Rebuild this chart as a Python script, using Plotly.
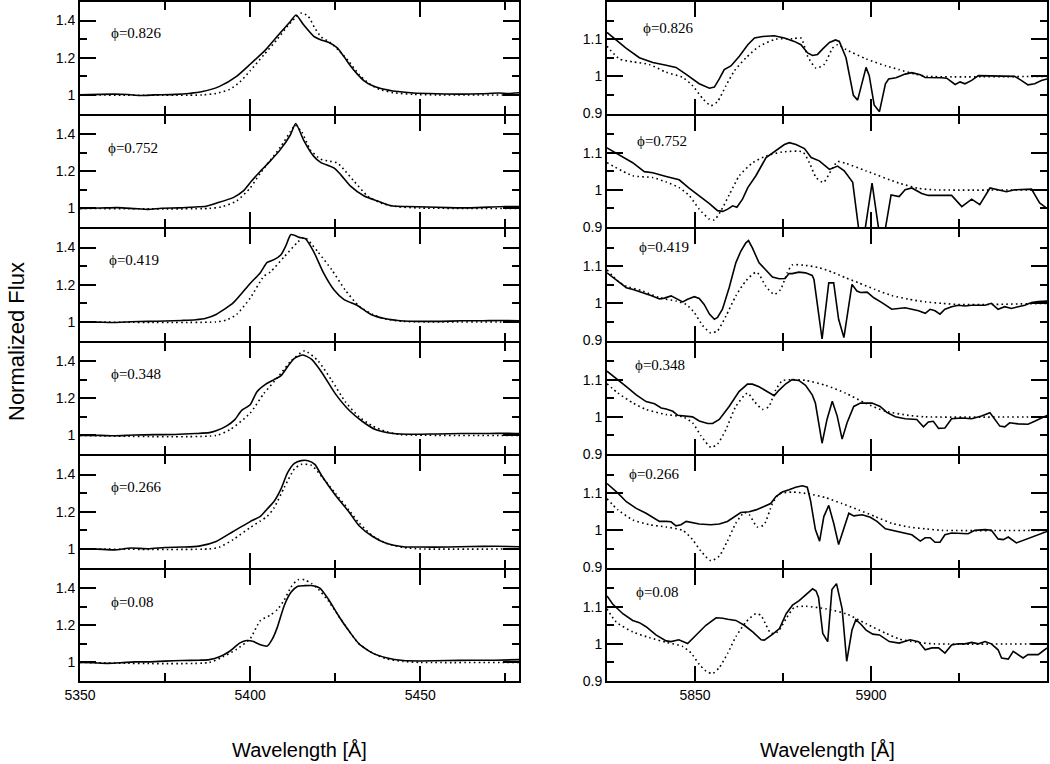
import plotly.graph_objects as go

# ---- phases (top to bottom) ----
PHASES = ["0.826", "0.752", "0.419", "0.348", "0.266", "0.08"]

# ---- left column: 5350-5480 A line profiles, (wavelength, flux) ----
left_obs_0826 = [(5350, 1.000), (5356, 1.003), (5360, 1.004), (5364, 1.002), (5368, 0.997), (5372, 1.000),
                 (5378, 1.003), (5382, 1.008), (5386, 1.018), (5391, 1.046), (5396, 1.100), (5400, 1.165),
                 (5404.8, 1.248), (5408.8, 1.333), (5411.8, 1.395), (5413.5, 1.430), (5415.7, 1.377),
                 (5418.7, 1.315), (5420.7, 1.297), (5423, 1.283), (5425.6, 1.253), (5427.6, 1.205),
                 (5429.5, 1.156), (5431.5, 1.112), (5433.5, 1.076), (5435.5, 1.053), (5438.4, 1.035),
                 (5443.4, 1.018), (5448, 1.010), (5455, 1.006), (5462, 1.004), (5468, 1.006), (5473, 1.010),
                 (5476, 1.008), (5479, 1.012)]
left_mod_0826 = [(5350, 1.000), (5386, 1.000), (5390, 1.008), (5394, 1.030), (5397, 1.070), (5400, 1.130),
                 (5404, 1.215), (5408, 1.300), (5411, 1.370), (5413.5, 1.420), (5415, 1.440), (5417, 1.425),
                 (5419, 1.360), (5421, 1.310), (5423.5, 1.283), (5426, 1.240), (5429, 1.180), (5432, 1.110),
                 (5435, 1.060), (5438, 1.030), (5442, 1.012), (5448, 1.003), (5455, 1.000), (5479, 1.000)]

left_obs_0752 = [(5350, 1.000), (5356, 1.002), (5361, 1.004), (5366, 0.999), (5370, 0.995), (5374, 1.001),
                 (5379, 1.003), (5384, 1.008), (5387, 1.012), (5390, 1.028), (5395, 1.058), (5398, 1.094),
                 (5400.4, 1.147), (5403, 1.200), (5405.8, 1.253), (5408.8, 1.315), (5411.8, 1.395),
                 (5413.4, 1.457), (5415.7, 1.368), (5418.7, 1.280), (5420.7, 1.248), (5424.6, 1.218),
                 (5426.6, 1.182), (5429.5, 1.120), (5433.5, 1.067), (5437.5, 1.040), (5441.5, 1.014),
                 (5446, 1.010), (5452, 1.008), (5458, 1.004), (5464, 1.003), (5470, 1.007), (5475, 1.010),
                 (5479, 1.010)]
left_mod_0752 = [(5350, 1.000), (5388, 1.000), (5392, 1.010), (5396, 1.040), (5400, 1.110), (5403, 1.190),
                 (5406, 1.260), (5409, 1.333), (5411.8, 1.412), (5413.2, 1.448), (5415.2, 1.410),
                 (5417.7, 1.315), (5420.7, 1.265), (5423, 1.255), (5425.6, 1.245), (5428, 1.200),
                 (5430.5, 1.147), (5434.5, 1.067), (5438.5, 1.028), (5443, 1.010), (5450, 1.002), (5479, 1.000)]

left_obs_0419 = [(5350, 1.000), (5355, 0.999), (5360, 0.997), (5365, 1.001), (5370, 1.003), (5375, 1.005),
                 (5380, 1.008), (5384, 1.012), (5387, 1.020), (5390, 1.040), (5395, 1.102), (5400, 1.207),
                 (5403, 1.265), (5405, 1.320), (5407, 1.335), (5409, 1.360), (5410.5, 1.410), (5412, 1.470),
                 (5414.5, 1.455), (5416.2, 1.448), (5418.7, 1.377), (5421.6, 1.262), (5424.6, 1.173),
                 (5427.6, 1.120), (5431.5, 1.088), (5435.5, 1.040), (5439.5, 1.018), (5445, 1.005),
                 (5450, 1.003), (5456, 1.003), (5462, 1.006), (5468, 1.006), (5474, 1.008), (5479, 1.006)]
left_mod_0419 = [(5350, 1.000), (5390, 1.000), (5393, 1.010), (5396, 1.040), (5400, 1.128), (5404, 1.245),
                 (5406, 1.270), (5410, 1.350), (5414, 1.430), (5416, 1.455), (5418, 1.420), (5420, 1.375),
                 (5424, 1.280), (5428, 1.170), (5432, 1.085), (5436, 1.040), (5440, 1.015), (5445, 1.003),
                 (5479, 1.000)]

left_obs_0348 = [(5350, 1.000), (5356, 1.000), (5360, 0.998), (5366, 1.002), (5372, 1.004), (5378, 1.005),
                 (5384, 1.010), (5388, 1.015), (5390, 1.025), (5393, 1.050), (5395.5, 1.085), (5397.5, 1.135),
                 (5400, 1.165), (5402, 1.235), (5404.5, 1.275), (5407, 1.300), (5409, 1.320), (5411, 1.370),
                 (5413, 1.415), (5415.5, 1.433), (5418, 1.410), (5421, 1.340), (5425, 1.225), (5429, 1.137),
                 (5433, 1.075), (5437, 1.030), (5442, 1.010), (5448, 1.006), (5455, 1.008), (5462, 1.010),
                 (5470, 1.010), (5476, 1.012), (5479, 1.010)]
left_mod_0348 = [(5350, 1.000), (5390, 1.000), (5394, 1.030), (5400, 1.120), (5404, 1.225), (5408, 1.310),
                 (5412, 1.400), (5416, 1.455), (5420, 1.400), (5424, 1.295), (5428, 1.180), (5432, 1.100),
                 (5436, 1.050), (5440, 1.020), (5444, 1.005), (5479, 1.000)]

left_obs_0266 = [(5350, 1.000), (5355, 0.999), (5360, 0.995), (5365, 1.005), (5370, 1.001), (5375, 1.008),
                 (5380, 1.010), (5385, 1.015), (5390, 1.040), (5395, 1.094), (5400, 1.147), (5403, 1.175),
                 (5405, 1.215), (5407, 1.255), (5409, 1.320), (5411, 1.410), (5413, 1.460), (5415, 1.475),
                 (5417, 1.475), (5419, 1.455), (5421, 1.395), (5425, 1.290), (5429, 1.200), (5432, 1.125),
                 (5436, 1.067), (5440, 1.030), (5445, 1.012), (5450, 1.010), (5458, 1.010), (5465, 1.013),
                 (5472, 1.014), (5479, 1.012)]
left_mod_0266 = [(5350, 1.000), (5388, 1.000), (5391, 1.010), (5395, 1.050), (5400, 1.115), (5403, 1.150),
                 (5405, 1.175), (5407, 1.220), (5410, 1.330), (5413, 1.430), (5415, 1.455), (5418, 1.450),
                 (5421, 1.390), (5425, 1.300), (5429, 1.210), (5432, 1.140), (5436, 1.070), (5440, 1.030),
                 (5445, 1.008), (5450, 1.000), (5479, 1.000)]

left_obs_008 = [(5350, 1.000), (5354, 0.998), (5358, 0.995), (5362, 0.998), (5366, 1.003), (5370, 1.003),
                (5375, 1.007), (5380, 1.010), (5385, 1.012), (5388, 1.015), (5391, 1.030), (5394, 1.060),
                (5397, 1.105), (5399, 1.118), (5401, 1.112), (5403, 1.095), (5405, 1.088), (5406.5, 1.125),
                (5408, 1.190), (5410, 1.305), (5412, 1.377), (5414, 1.410), (5416, 1.413), (5418.5, 1.413),
                (5420.5, 1.400), (5423, 1.340), (5426, 1.250), (5429, 1.170), (5432, 1.100), (5436, 1.050),
                (5440, 1.025), (5445, 1.010), (5450, 1.008), (5458, 1.010), (5465, 1.012), (5472, 1.012),
                (5479, 1.015)]
left_mod_008 = [(5350, 1.000), (5388, 1.000), (5392, 1.030), (5396, 1.070), (5400, 1.128), (5403, 1.225),
                (5406, 1.255), (5408, 1.285), (5410, 1.335), (5412, 1.405), (5414, 1.445), (5416, 1.445),
                (5418, 1.425), (5420, 1.395), (5423, 1.330), (5426, 1.250), (5429, 1.170), (5432, 1.100),
                (5436, 1.050), (5440, 1.020), (5445, 1.005), (5450, 1.000), (5479, 1.000)]

# ---- right column: 5825-5950 A ----
right_obs_0826 = [(5825, 1.118), (5827.6, 1.098), (5830.4, 1.076), (5834.2, 1.050), (5838.0, 1.037),
                  (5841.8, 1.030), (5844.6, 1.024), (5847.4, 1.006), (5851.2, 0.980), (5854.1, 0.968),
                  (5855.5, 0.971), (5856.9, 0.993), (5858.3, 1.018), (5860.2, 1.028), (5862.6, 1.054),
                  (5865.0, 1.085), (5866.9, 1.103), (5869.2, 1.107), (5872.5, 1.109), (5875.4, 1.103),
                  (5878.2, 1.094), (5880.1, 1.085), (5882.0, 1.063), (5883.4, 1.056), (5884.8, 1.059),
                  (5886.3, 1.074), (5888.2, 1.091), (5889.9, 1.098), (5891.0, 1.094), (5892.9, 1.050),
                  (5895.0, 0.949), (5896.2, 0.936), (5898.6, 1.024), (5899.5, 1.002), (5900.9, 0.923),
                  (5902.4, 0.905), (5904.1, 0.980), (5905.0, 0.993), (5907.1, 0.996), (5909.7, 1.006),
                  (5911.6, 1.010), (5914.0, 1.004), (5915.4, 0.997), (5920.1, 0.996), (5921.5, 0.995),
                  (5923.9, 0.978), (5925.3, 0.985), (5926.7, 0.980), (5928.6, 0.989), (5930.5, 1.002),
                  (5933.3, 1.002), (5936.1, 1.000), (5938.5, 1.002), (5940.8, 1.000), (5942.7, 0.989),
                  (5944.6, 0.977), (5946.5, 0.980), (5948.4, 0.989), (5950, 0.993)]
right_mod_0826 = [(5825, 1.081), (5828.5, 1.047), (5832.3, 1.039), (5837.0, 1.032), (5841.8, 1.011),
                  (5846.5, 0.997), (5849.3, 0.975), (5852.2, 0.940), (5854.5, 0.921), (5856.4, 0.932),
                  (5858.8, 0.975), (5861.2, 1.015), (5864.5, 1.050), (5868.3, 1.081), (5873.0, 1.100),
                  (5877.7, 1.101), (5880.1, 1.103), (5882.0, 1.054), (5884.4, 1.022), (5886.7, 1.032),
                  (5889.1, 1.076), (5890.5, 1.085), (5892.9, 1.072), (5898.6, 1.047), (5904.3, 1.028),
                  (5908.0, 1.018), (5912.5, 1.006), (5916.0, 1.000), (5950, 1.000)]

right_obs_0752 = [(5825, 1.113), (5827.1, 1.102), (5829.9, 1.087), (5832.3, 1.073), (5835.6, 1.049),
                  (5838.0, 1.046), (5841.8, 1.036), (5845.5, 1.027), (5848.4, 1.004), (5851.2, 0.984),
                  (5854.1, 0.963), (5856.4, 0.944), (5857.9, 0.942), (5859.3, 0.948), (5860.7, 0.957),
                  (5861.9, 0.953), (5863.5, 0.975), (5865.0, 1.006), (5867.3, 1.038), (5870.2, 1.087),
                  (5872.5, 1.102), (5875.4, 1.122), (5876.8, 1.127), (5878.7, 1.122), (5881.1, 1.111),
                  (5883.0, 1.087), (5885.3, 1.078), (5888.2, 1.055), (5890.5, 1.064), (5892.4, 1.051),
                  (5894.8, 1.020), (5896.7, 0.880), (5898.1, 0.880), (5900.3, 1.018), (5902.4, 0.880),
                  (5903.8, 0.880), (5905.7, 0.986), (5908.0, 0.982), (5909.7, 1.000), (5911.6, 1.005),
                  (5914.4, 0.990), (5916.3, 0.985), (5922.9, 0.985), (5925.8, 0.955), (5928.6, 0.975),
                  (5930.9, 0.960), (5933.8, 1.005), (5936.1, 1.000), (5938.5, 0.995), (5940.8, 1.000),
                  (5945.6, 1.002), (5947.9, 0.965), (5950, 0.950)]
right_mod_0752 = [(5825, 1.073), (5832.3, 1.038), (5838.0, 1.033), (5841.8, 1.021), (5845.5, 1.006),
                  (5848.4, 0.984), (5851.2, 0.948), (5854.1, 0.921), (5855.5, 0.919), (5857.4, 0.944),
                  (5859.8, 0.988), (5862.6, 1.038), (5866.4, 1.073), (5870.2, 1.091), (5874.9, 1.102),
                  (5880.6, 1.102), (5882.5, 1.073), (5884.4, 1.033), (5886.5, 1.020), (5888.6, 1.051),
                  (5890.5, 1.076), (5892.9, 1.071), (5898.6, 1.051), (5908.0, 1.018), (5913.5, 1.004),
                  (5918.2, 1.000), (5950, 1.000)]

right_obs_0419 = [(5825, 1.082), (5828.1, 1.060), (5830.5, 1.042), (5832.4, 1.037), (5835.2, 1.029),
                  (5837.5, 1.021), (5839.9, 1.012), (5841.3, 1.014), (5843.2, 1.020), (5845.1, 1.011),
                  (5846.5, 1.004), (5847.9, 1.011), (5849.8, 1.018), (5851.2, 1.013), (5852.6, 0.997),
                  (5854.1, 0.971), (5855.5, 0.957), (5856.4, 0.962), (5857.8, 0.984), (5859.7, 1.042),
                  (5861.6, 1.109), (5863.0, 1.140), (5864.4, 1.162), (5865.2, 1.169), (5866.3, 1.149),
                  (5868.2, 1.109), (5870.1, 1.091), (5872.0, 1.071), (5873.9, 1.066), (5875.6, 1.067),
                  (5876.7, 1.080), (5877.6, 1.080), (5879.5, 1.084), (5881.4, 1.082), (5883.3, 1.075),
                  (5883.8, 1.064), (5886.1, 0.904), (5888.0, 1.055), (5889.4, 1.055), (5890.8, 0.957),
                  (5892.3, 0.908), (5894.6, 1.051), (5896.0, 1.033), (5897.0, 1.029), (5898.9, 1.030),
                  (5900.8, 1.015), (5903.1, 1.002), (5905.9, 0.984), (5907.8, 0.986), (5909.7, 0.988),
                  (5911.6, 0.984), (5913.5, 0.980), (5915.4, 0.973), (5916.8, 0.984), (5918.2, 0.980),
                  (5919.6, 0.971), (5921.0, 0.984), (5922.9, 0.991), (5924.8, 0.995), (5926.7, 0.993),
                  (5928.6, 0.995), (5930.5, 0.996), (5932.4, 0.995), (5934.2, 1.000), (5936.1, 0.984),
                  (5938.0, 0.991), (5939.9, 0.986), (5941.8, 0.991), (5943.7, 0.995), (5945.6, 1.002),
                  (5947.5, 1.005), (5950, 1.006)]
right_mod_0419 = [(5825, 1.090), (5828.1, 1.060), (5830.5, 1.046), (5835.2, 1.033), (5839.9, 1.015),
                  (5844.6, 1.006), (5847.5, 0.997), (5849.8, 0.975), (5852.2, 0.940), (5854.5, 0.920),
                  (5856.4, 0.926), (5858.8, 0.966), (5861.6, 1.020), (5864.4, 1.060), (5867.3, 1.084),
                  (5868.2, 1.078), (5870.1, 1.046), (5872.5, 1.024), (5874.3, 1.037), (5876.2, 1.082),
                  (5877.6, 1.103), (5881.4, 1.102), (5885.2, 1.096), (5889.0, 1.084), (5892.7, 1.069),
                  (5896.5, 1.055), (5901.2, 1.037), (5905.9, 1.021), (5910.7, 1.011), (5915.4, 1.004),
                  (5920.1, 1.000), (5924.8, 0.997), (5934.2, 0.997), (5950, 1.000)]

right_obs_0348 = [(5825, 1.123), (5828.1, 1.098), (5830.5, 1.081), (5833.3, 1.059), (5836.1, 1.041),
                  (5838.5, 1.035), (5840.4, 1.024), (5841.8, 1.021), (5843.7, 1.015), (5845.1, 1.004),
                  (5847.9, 1.002), (5849.3, 1.000), (5851.2, 0.989), (5853.6, 0.982), (5855.0, 0.982),
                  (5856.9, 0.993), (5859.7, 1.028), (5862.5, 1.068), (5864.9, 1.088), (5866.3, 1.088),
                  (5868.2, 1.081), (5870.6, 1.068), (5872.5, 1.057), (5873.9, 1.072), (5875.8, 1.089),
                  (5877.6, 1.100), (5879.5, 1.098), (5881.4, 1.085), (5883.3, 1.059), (5884.2, 1.037),
                  (5885.2, 0.975), (5886.1, 0.929), (5887.5, 0.993), (5889.0, 1.042), (5890.4, 1.002),
                  (5891.8, 0.940), (5893.2, 0.984), (5895.1, 1.028), (5897.0, 1.037), (5900.3, 1.037),
                  (5902.6, 1.028), (5904.5, 1.012), (5906.9, 1.000), (5909.7, 0.995), (5913.0, 0.993),
                  (5914.9, 0.973), (5916.3, 0.986), (5917.7, 0.988), (5919.2, 0.969), (5921.0, 0.970),
                  (5922.9, 0.995), (5925.8, 0.997), (5928.6, 0.995), (5931.4, 1.002), (5933.8, 1.011),
                  (5935.2, 0.993), (5936.6, 0.975), (5938.0, 0.973), (5939.4, 0.984), (5941.8, 0.981),
                  (5944.6, 0.980), (5946.5, 0.988), (5950, 1.004)]
right_mod_0348 = [(5825, 1.089), (5828.1, 1.064), (5832.4, 1.037), (5836.1, 1.020), (5841.8, 1.006),
                  (5846.5, 1.000), (5849.3, 0.984), (5851.7, 0.949), (5854.5, 0.918), (5856.4, 0.927),
                  (5858.8, 0.966), (5861.6, 1.028), (5864.9, 1.064), (5866.8, 1.042), (5869.2, 1.020),
                  (5871.0, 1.028), (5872.9, 1.072), (5874.8, 1.097), (5877.6, 1.100), (5881.4, 1.098),
                  (5887.1, 1.085), (5892.7, 1.064), (5898.4, 1.037), (5904.1, 1.015), (5910.7, 1.004),
                  (5915.4, 1.000), (5950, 1.000)]

right_obs_0266 = [(5825, 1.126), (5828.1, 1.100), (5830.5, 1.077), (5833.3, 1.059), (5836.1, 1.046),
                  (5839.9, 1.024), (5841.8, 1.024), (5843.2, 1.023), (5844.6, 1.012), (5846.0, 1.015),
                  (5847.5, 1.024), (5849.3, 1.021), (5851.2, 1.017), (5854.5, 1.015), (5856.9, 1.017),
                  (5859.2, 1.024), (5861.6, 1.039), (5863.0, 1.048), (5865.4, 1.050), (5867.3, 1.055),
                  (5869.6, 1.064), (5871.5, 1.072), (5873.0, 1.091), (5874.8, 1.103), (5876.7, 1.109),
                  (5878.6, 1.116), (5880.5, 1.120), (5881.9, 1.116), (5882.8, 1.081), (5884.2, 1.002),
                  (5885.4, 0.971), (5886.6, 1.037), (5888.0, 1.067), (5889.4, 1.019), (5890.8, 0.962),
                  (5892.3, 1.006), (5893.7, 1.046), (5895.1, 1.039), (5897.5, 1.042), (5899.8, 1.035),
                  (5901.7, 1.024), (5904.1, 1.004), (5905.9, 1.000), (5908.8, 0.995), (5911.6, 0.988),
                  (5914.0, 0.971), (5915.4, 0.980), (5916.8, 0.980), (5918.2, 0.968), (5919.6, 0.968),
                  (5921.0, 0.988), (5922.9, 0.993), (5924.8, 0.993), (5927.6, 0.991), (5929.5, 1.000),
                  (5932.4, 1.002), (5934.2, 1.000), (5936.1, 0.977), (5937.6, 0.975), (5939.0, 0.982),
                  (5941.3, 0.966), (5943.7, 0.975), (5946.5, 0.986), (5950, 0.997)]
right_mod_0266 = [(5825, 1.085), (5828.1, 1.055), (5832.4, 1.028), (5837.1, 1.015), (5841.8, 1.009),
                  (5846.5, 1.000), (5849.3, 0.975), (5851.7, 0.944), (5854.5, 0.918), (5856.9, 0.931),
                  (5859.2, 0.971), (5861.6, 1.019), (5864.0, 1.048), (5865.4, 1.042), (5867.7, 1.009),
                  (5869.6, 1.015), (5872.0, 1.072), (5873.9, 1.098), (5877.6, 1.103), (5882.4, 1.098),
                  (5887.1, 1.088), (5891.8, 1.072), (5896.5, 1.055), (5901.2, 1.037), (5905.9, 1.019),
                  (5910.7, 1.009), (5915.4, 1.004), (5920.1, 1.000), (5950, 1.000)]

right_obs_008 = [(5825, 1.129), (5826.6, 1.107), (5829.5, 1.081), (5832.3, 1.063), (5834.2, 1.057),
                 (5836.1, 1.046), (5838.9, 1.024), (5841.8, 1.008), (5843.2, 1.006), (5845.4, 1.011),
                 (5847.9, 1.001), (5850.3, 1.024), (5853.1, 1.050), (5856.0, 1.070), (5857.9, 1.069),
                 (5859.3, 1.066), (5861.6, 1.063), (5864.0, 1.050), (5866.4, 1.032), (5868.8, 1.011),
                 (5869.7, 1.010), (5872.1, 1.026), (5874.0, 1.041), (5875.9, 1.081), (5877.7, 1.104),
                 (5879.6, 1.116), (5881.5, 1.133), (5883.4, 1.148), (5884.4, 1.142), (5885.1, 1.125),
                 (5886.3, 1.028), (5887.7, 1.006), (5888.9, 1.146), (5890.2, 1.162), (5891.8, 1.094),
                 (5893.1, 0.953), (5894.6, 1.037), (5895.7, 1.065), (5897.2, 1.052), (5898.6, 1.037),
                 (5900.5, 1.026), (5902.4, 1.024), (5905.2, 1.006), (5908.0, 1.002), (5911.1, 1.011),
                 (5913.5, 1.006), (5915.4, 0.984), (5917.3, 0.989), (5919.2, 0.989), (5921.0, 0.975),
                 (5922.9, 0.997), (5924.8, 1.000), (5926.7, 1.000), (5928.6, 1.004), (5930.5, 1.000),
                 (5932.4, 1.006), (5934.2, 1.000), (5936.1, 0.984), (5937.1, 0.962), (5939.0, 0.959),
                 (5940.4, 0.980), (5941.8, 0.971), (5943.2, 0.962), (5944.6, 0.971), (5947.5, 0.971),
                 (5950, 0.989)]
right_mod_008 = [(5825, 1.094), (5827.6, 1.059), (5832.3, 1.032), (5837.0, 1.017), (5841.8, 1.004),
                 (5846.5, 0.993), (5848.9, 0.975), (5851.2, 0.945), (5853.1, 0.927), (5855.0, 0.920),
                 (5856.9, 0.936), (5859.3, 0.975), (5861.6, 1.019), (5864.5, 1.059), (5867.3, 1.081),
                 (5868.8, 1.076), (5870.2, 1.050), (5871.6, 1.028), (5873.5, 1.032), (5875.9, 1.068),
                 (5878.2, 1.098), (5881.5, 1.101), (5887.2, 1.094), (5892.9, 1.081), (5898.6, 1.054),
                 (5904.3, 1.028), (5908.0, 1.013), (5913.0, 1.004), (5918.0, 1.000), (5950, 1.000)]

LEFT_OBS = [left_obs_0826, left_obs_0752, left_obs_0419, left_obs_0348, left_obs_0266, left_obs_008]
LEFT_MOD = [left_mod_0826, left_mod_0752, left_mod_0419, left_mod_0348, left_mod_0266, left_mod_008]
RIGHT_OBS = [right_obs_0826, right_obs_0752, right_obs_0419, right_obs_0348, right_obs_0266, right_obs_008]
RIGHT_MOD = [right_mod_0826, right_mod_0752, right_mod_0419, right_mod_0348, right_mod_0266, right_mod_008]

# axis ticks
LEFT_XTICKS = [5350, 5400, 5450]
RIGHT_XTICKS = [5850, 5900]
LEFT_YTICKS = [1.0, 1.2, 1.4]
RIGHT_YTICKS = [0.9, 1.0, 1.1]

W, H = 1050, 764
COL_X = [(80, 519), (607, 1047)]      # plot area in page px
LINE_Y = [1 + 113.5 * k for k in range(7)]  # panel border centres in page px
LW = 2
SANS = "Liberation Sans, Arial, sans-serif"
SERIF = "Liberation Serif, DejaVu Serif, Times New Roman, serif"
# phase label anchors (left edge x, offset below panel top)
LEFT_LABEL = [(109, 31), (106, 32), (107, 31), (109, 31), (109, 31), (109, 32)]
RIGHT_LABEL = [(641, 26), (635, 26), (637, 18), (633, 22), (627, 18), (634, 22)]


def px_x(p):
    return p / W


def px_y(p):
    return 1 - p / H


def unzip(pairs):
    return [p[0] for p in pairs], [p[1] for p in pairs]


fig = go.Figure()
layout = {}
annotations = []

for row in range(6):
    top_px = LINE_Y[row] + LW / 2
    bot_px = LINE_Y[row + 1] - LW / 2
    ydom = [px_y(bot_px), px_y(top_px)]
    last = row == 5
    for col in range(2):
        n = row * 2 + col + 1
        xs = "x" if n == 1 else f"x{n}"
        ys = "y" if n == 1 else f"y{n}"
        if col == 0:
            obs, mod = LEFT_OBS[row], LEFT_MOD[row]
            xr, yr = [5350, 5479], [0.9, 1.5]
            xt, yt = LEFT_XTICKS, LEFT_YTICKS
            xminor = dict(tick0=5375, dtick=50)
            yminor = dict(tick0=0.9, dtick=0.2)
            obs_shape = "spline"
            lx, dy = LEFT_LABEL[row]
        else:
            obs, mod = RIGHT_OBS[row], RIGHT_MOD[row]
            xr, yr = [5825, 5950], [0.9, 1.2]
            xt, yt = RIGHT_XTICKS, RIGHT_YTICKS
            xminor = dict(tick0=5825, dtick=25)
            yminor = dict(tick0=0.95, dtick=0.1)
            obs_shape = "linear"
            lx, dy = RIGHT_LABEL[row]

        mx, my = unzip(mod)
        fig.add_trace(go.Scatter(x=mx, y=my, mode="lines", xaxis=xs, yaxis=ys,
                                 line=dict(color="black", width=1.6, dash="1.6px,3.2px",
                                           shape="spline", smoothing=0.6),
                                 showlegend=False, hoverinfo="skip"))
        ox, oy = unzip(obs)
        line = dict(color="black", width=1.6, shape=obs_shape)
        if obs_shape == "spline":
            line["smoothing"] = 0.6
        fig.add_trace(go.Scatter(x=ox, y=oy, mode="lines", xaxis=xs, yaxis=ys,
                                 line=line, showlegend=False, hoverinfo="skip"))

        x0, x1 = COL_X[col]
        common = dict(showline=True, linecolor="black", linewidth=LW, mirror="ticks",
                      ticks="inside", tickcolor="black", tickwidth=1.5,
                      showgrid=False, zeroline=False, automargin=False,
                      tickfont=dict(family=SANS, size=14, color="black"))
        layout["xaxis" if n == 1 else f"xaxis{n}"] = dict(
            common, domain=[px_x(x0), px_x(x1)], anchor=ys, range=xr,
            tickmode="array", tickvals=xt, ticklen=15,
            showticklabels=last,
            minor=dict(xminor, ticks="inside", ticklen=8, tickwidth=1.5, tickcolor="black"))
        layout["yaxis" if n == 1 else f"yaxis{n}"] = dict(
            common, domain=ydom, anchor=xs, range=yr,
            tickmode="array", tickvals=yt, ticklen=16,
            ticksuffix=" ",
            minor=dict(yminor, ticks="inside", ticklen=7, tickwidth=1.5, tickcolor="black"))

        # stroked phi (U+03D5), as in the original figure
        annotations.append(dict(text="\u03d5=" + PHASES[row], xref="paper", yref="paper",
                                x=px_x(lx), y=px_y(top_px + dy), xanchor="left", yanchor="middle",
                                showarrow=False, font=dict(family=SERIF, size=15, color="black")))

# axis titles
for cx in (299.5, 827):
    annotations.append(dict(text="Wavelength [Å]", xref="paper", yref="paper",
                            x=px_x(cx), y=px_y(750), xanchor="center", yanchor="middle",
                            showarrow=False, font=dict(family=SANS, size=20, color="black")))
annotations.append(dict(text="Normalized Flux", xref="paper", yref="paper",
                        x=px_x(16), y=px_y(342), xanchor="center", yanchor="middle",
                        textangle=-90, showarrow=False,
                        font=dict(family=SANS, size=22, color="black")))

fig.update_layout(**layout)
fig.update_layout(width=W, height=H, autosize=False,
                  margin=dict(l=0, r=0, t=0, b=0, autoexpand=False),
                  paper_bgcolor="white", plot_bgcolor="white",
                  annotations=annotations)

# drop the browser's default 8px page margin so the figure sits at the window corner
fig.write_html("out.html", config={"displayModeBar": False},
               post_script="document.body.style.margin = '0px';")
